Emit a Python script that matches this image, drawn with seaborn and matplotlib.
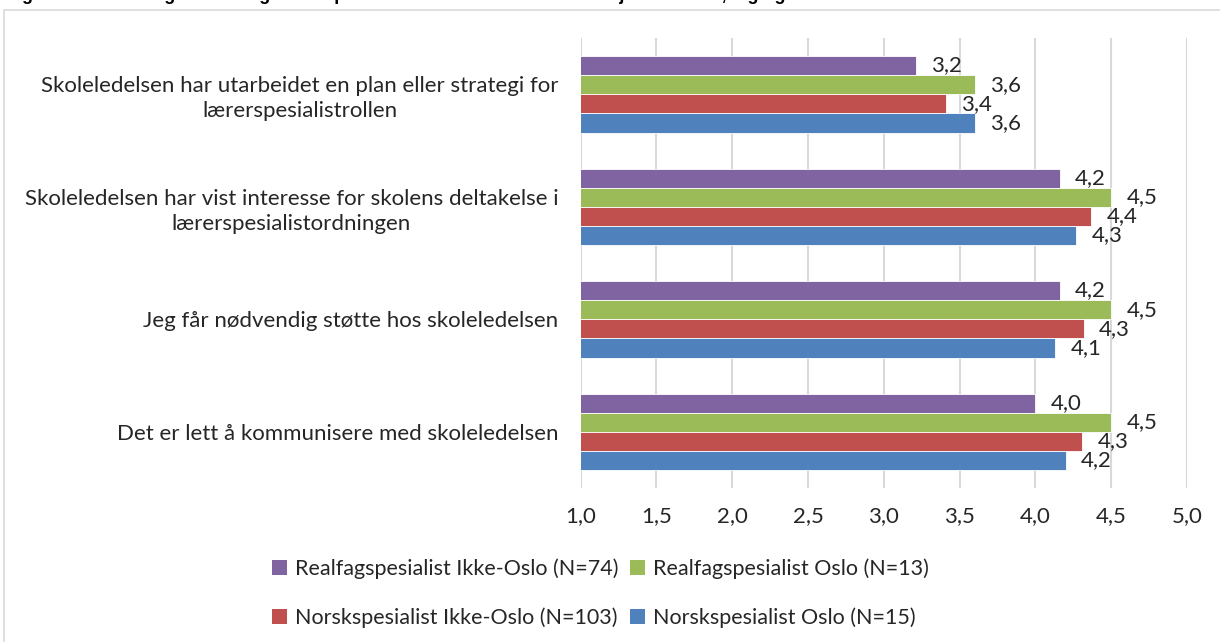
import matplotlib
matplotlib.use("Agg")
import matplotlib.pyplot as plt
import seaborn as sns
import pandas as pd
from matplotlib.patches import Rectangle, Patch

categories = [
    "Skoleledelsen har utarbeidet en plan eller strategi for\nlærerspesialistrollen",
    "Skoleledelsen har vist interesse for skolens deltakelse i\nlærerspesialistordningen",
    "Jeg får nødvendig støtte hos skoleledelsen",
    "Det er lett å kommunisere med skoleledelsen",
]
series = [
    "Realfagspesialist Ikke-Oslo (N=74)",
    "Realfagspesialist Oslo (N=13)",
    "Norskspesialist Ikke-Oslo (N=103)",
    "Norskspesialist Oslo (N=15)",
]
realfag_ikke_oslo = [3.21, 4.16, 4.16, 4.00]
realfag_oslo = [3.60, 4.50, 4.50, 4.50]
norsk_ikke_oslo = [3.41, 4.37, 4.32, 4.31]
norsk_oslo = [3.60, 4.27, 4.13, 4.20]
x_ticks = [1.0, 1.5, 2.0, 2.5, 3.0, 3.5, 4.0, 4.5, 5.0]
title = "Figur 4.6: Hvor enig eller uenig er du i påstandene om skoleledelsen? Gjennomsnitt, fag og sted"

colors = ["#8064A2", "#9BBB59", "#C0504D", "#4F81BD"]

rows = []
for s, vals in zip(series, [realfag_ikke_oslo, realfag_oslo, norsk_ikke_oslo, norsk_oslo]):
    for c, v in zip(categories, vals):
        rows.append({"Påstand": c, "Gruppe": s, "Verdi": v})
df = pd.DataFrame(rows)

sns.set_theme(style="white")
plt.rcParams["font.family"] = ["Lato", "DejaVu Sans"]
FS = 16

fig = plt.figure(figsize=(12.2, 6.42), dpi=100)
ax = fig.add_axes([580.5 / 1220, 1 - 488 / 642, (1187 - 580.5) / 1220, (488 - 38) / 642])

# outer frame
fig.patches.append(Rectangle((4 / 1220, -0.01), 1.02, 1 - 10 / 642 + 0.01,
                             transform=fig.transFigure, fill=False,
                             edgecolor="#D9D9D9", linewidth=1.2, zorder=0))
fig.text(6 / 1220, 1 + 0.5 / 642, title, fontsize=13, fontweight="bold",
         family=["Liberation Sans", "DejaVu Sans"], va="baseline", ha="left", color="black")

sns.barplot(data=df, y="Påstand", x="Verdi", hue="Gruppe", order=categories,
            hue_order=series, palette=colors, orient="h", width=0.68, gap=0,
            edgecolor="white", linewidth=0.6, ax=ax, legend=False, saturation=1)

ax.set_xlim(1, 5)
ax.set_xticks(x_ticks)
ax.set_xticklabels([f"{t:.1f}".replace(".", ",") for t in x_ticks], fontsize=FS)
ax.set_xlabel("")
ax.set_ylabel("")
ax.grid(axis="x", color="#D9D9D9", linewidth=1.5)
ax.grid(axis="y", visible=False)
ax.set_axisbelow(True)
for sp in ax.spines.values():
    sp.set_visible(False)
ax.tick_params(axis="both", length=0)
ax.tick_params(axis="x", pad=13)
ax.tick_params(axis="y", pad=16)
for lbl in ax.get_yticklabels():
    lbl.set_fontsize(FS)
    lbl.set_multialignment("center")
    lbl.set_linespacing(1.3)

for cont in ax.containers:
    ax.bar_label(cont, labels=[f"{b.get_width():.1f}".replace(".", ",") for b in cont],
                 padding=11, fontsize=FS)

handles = [Patch(facecolor=c, edgecolor="none") for c in colors]
order = [0, 2, 1, 3]
fig.legend([handles[i] for i in order], [series[i] for i in order], ncol=2,
           loc="upper left", bbox_to_anchor=(272 / 1220, 1 - 558 / 642),
           frameon=False, fontsize=15.5, handlelength=0.7, handleheight=0.7,
           handletextpad=0.35, columnspacing=0.55, labelspacing=1.32, borderpad=0,
           borderaxespad=0)

fig.savefig("out.png", dpi=100)
